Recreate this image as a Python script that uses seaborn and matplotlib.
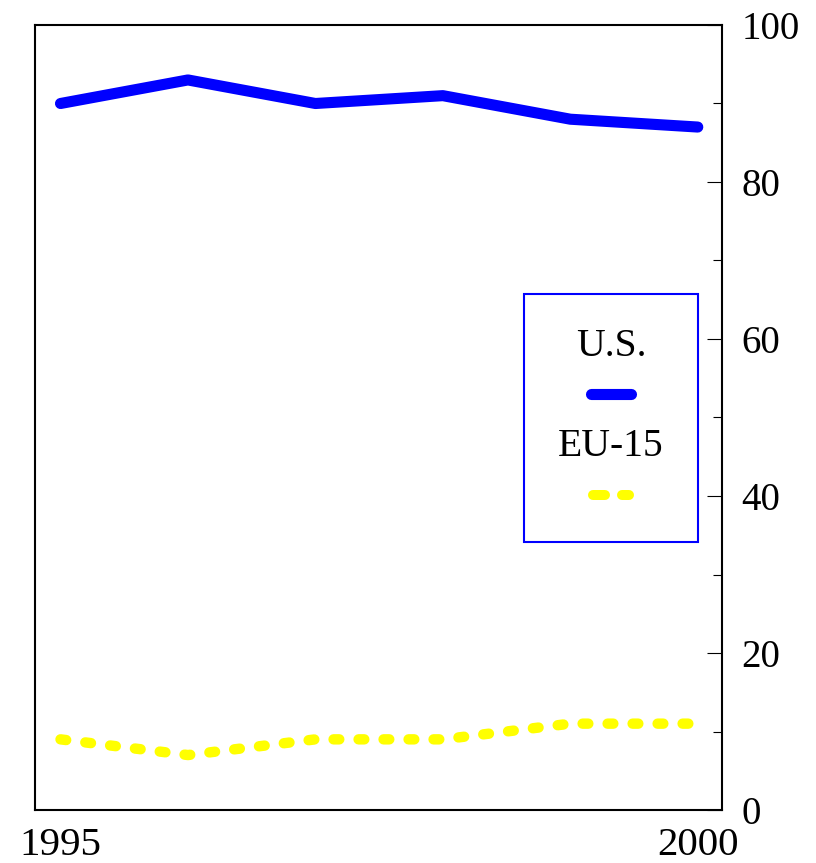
import pandas as pd
import matplotlib
matplotlib.use('Agg')
import matplotlib.pyplot as plt
import seaborn as sns
from matplotlib.lines import Line2D
from matplotlib.offsetbox import AnchoredOffsetbox, VPacker, TextArea, DrawingArea
from matplotlib.ticker import MultipleLocator

# values
years = [1995, 1996, 1997, 1998, 1999, 2000]
us = [90, 93, 90, 91, 88, 87]
eu15 = [9, 7, 9, 9, 11, 11]
xlabels = ['1995', '', '', '', '', '2000']

BLUE = '#0000ff'
YELLOW = '#ffff00'


def handle(color, lw, dashes=None, height=10, extra=0):
    # line sample sitting in the upper part of a small box
    da = DrawingArea(40, height + extra)
    y = extra + height / 2.0
    ln = Line2D([20 - 14.5, 20 + 14.5] if dashes is None else [20 - 13, 20 + 13], [y, y],
                color=color, lw=lw, solid_capstyle='round', dash_capstyle='round')
    if dashes is not None:
        ln.set_dashes(dashes)
    da.add_artist(ln)
    return da


def main():
    sns.set_style('white')
    plt.rcParams['font.family'] = ['Liberation Serif', 'DejaVu Serif']
    plt.rcParams['font.size'] = 28
    plt.rcParams['text.color'] = 'black'
    plt.rcParams['xtick.color'] = 'black'
    plt.rcParams['ytick.color'] = 'black'

    df = pd.DataFrame({'year': years, 'U.S.': us, 'EU-15': eu15})

    fig = plt.figure(figsize=(8.16, 8.63), dpi=100)
    ax = fig.add_axes([35 / 816., 53 / 863., 687 / 816., 785 / 863.])

    sns.lineplot(data=df, x='year', y='U.S.', ax=ax, color=BLUE, lw=8,
                 legend=False)
    sns.lineplot(data=df, x='year', y='EU-15', ax=ax, color=YELLOW, lw=7.5,
                 legend=False)
    lus, leu = ax.get_lines()[0], ax.get_lines()[1]
    lus.set_solid_capstyle('round')
    lus.set_solid_joinstyle('round')
    leu.set_dashes((0.55, 1.85))
    leu.set_dash_capstyle('round')

    ax.set_xlim(1994.80, 2000.19)
    ax.set_ylim(0, 100)
    ax.set_xticks(years)
    ax.set_xticklabels(xlabels)
    ax.yaxis.tick_right()
    ax.yaxis.set_major_locator(MultipleLocator(20))
    ax.yaxis.set_minor_locator(MultipleLocator(10))
    ax.set_xlabel('')
    ax.set_ylabel('')
    ax.grid(False)

    ax.tick_params(axis='x', direction='in', length=11.5, width=0.8,
                   labelsize=29.5, pad=12, color='black', labelcolor='black')
    ax.tick_params(axis='y', which='major', direction='in', length=11, width=0.8,
                   labelsize=28, pad=14, color='black', labelcolor='black',
                   left=False, right=True)
    ax.tick_params(axis='y', which='minor', direction='in', length=6.5, width=0.8,
                   left=False, right=True, color='black')
    for s in ax.spines.values():
        s.set_color('black')
        s.set_linewidth(1.5)

    # legend: label above its line sample, centred
    tprops = dict(size=28.5, color='black', family=['Liberation Serif', 'DejaVu Serif'])
    box = VPacker(children=[TextArea('U.S.', textprops=tprops),
                            handle(BLUE, 8, extra=4),
                            TextArea('EU-15', textprops=tprops),
                            handle(YELLOW, 7.2, dashes=(1.2, 1.7), extra=5)],
                  align='center', pad=24, sep=16, width=107)
    ab = AnchoredOffsetbox(loc='upper left', child=box, pad=0, borderpad=0,
                           frameon=True, bbox_to_anchor=(0.712, 0.657),
                           bbox_transform=ax.transAxes)
    ab.patch.set_edgecolor(BLUE)
    ab.patch.set_linewidth(1.5)
    ax.add_artist(ab)

    fig.savefig('out.png', dpi=100)


if __name__ == '__main__':
    main()
